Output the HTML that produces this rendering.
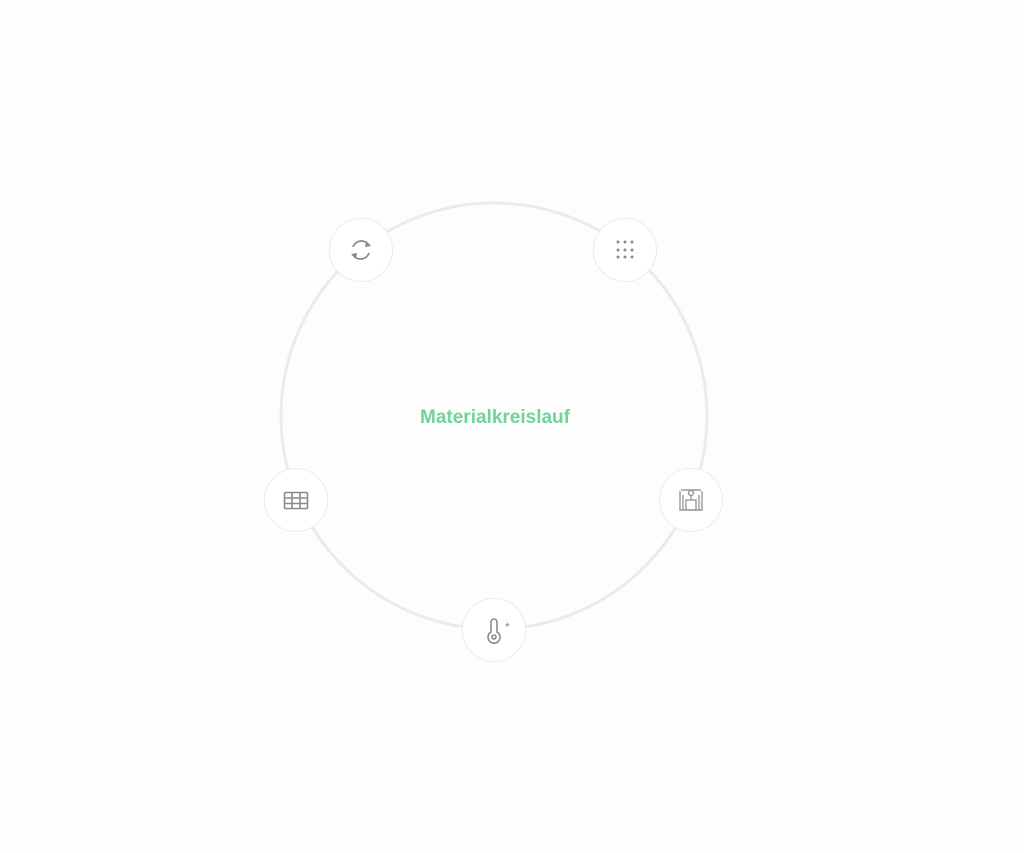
<!DOCTYPE html>
<html><head><meta charset="utf-8"><style>
html,body{margin:0;padding:0;background:#fdfdfd;}
body{width:1024px;height:853px;position:relative;overflow:hidden;font-family:"Liberation Sans",sans-serif;}
</style></head><body>
<svg width="1024" height="853" style="position:absolute;left:0;top:0">
<circle cx="494" cy="416" r="213" fill="none" stroke="#ebebeb" stroke-width="3"/>
<g fill="#fff" stroke="#ececec" stroke-width="1">
<circle cx="361" cy="250" r="31.5"/>
<circle cx="625" cy="250" r="31.5"/>
<circle cx="296" cy="500" r="31.5"/>
<circle cx="691" cy="500" r="31.5"/>
<circle cx="494" cy="630" r="31.5"/>
</g>
<!-- refresh -->
<g fill="none" stroke="#8a8a8a" stroke-width="1.8">
<path d="M353 247 A9 9 0 0 1 369 245"/><path d="M369 253 A9 9 0 0 1 353 255"/>
</g>
<path d="M366 241 L371 246 L365 247Z M356 259 L351 254 L357 253Z" fill="#8a8a8a"/>
<!-- dots -->
<g fill="#8a8a8a">
<circle cx="618" cy="242" r="1.5"/><circle cx="625" cy="242" r="1.5"/><circle cx="632" cy="242" r="1.5"/>
<circle cx="618" cy="250" r="1.5"/><circle cx="625" cy="250" r="1.5"/><circle cx="632" cy="250" r="1.5"/>
<circle cx="618" cy="257" r="1.5"/><circle cx="625" cy="257" r="1.5"/><circle cx="632" cy="257" r="1.5"/>
</g>
<!-- grid -->
<g fill="none" stroke="#8a8a8a" stroke-width="1.6">
<rect x="284.5" y="492.5" width="23" height="16" rx="1"/>
<line x1="292" y1="492" x2="292" y2="509"/><line x1="300" y1="492" x2="300" y2="509"/>
<line x1="284" y1="498" x2="308" y2="498"/><line x1="284" y1="503.5" x2="308" y2="503.5"/>
</g>
<!-- press -->
<g fill="none" stroke="#999" stroke-width="1.4">
<line x1="681" y1="490" x2="701" y2="490"/><circle cx="691" cy="493" r="2.5"/>
<line x1="691" y1="495" x2="691" y2="500"/>
<path d="M680 491 V510 H702 V491"/><rect x="686" y="500" width="10" height="10"/>
<line x1="683" y1="495" x2="683" y2="510"/><line x1="699" y1="495" x2="699" y2="510"/>
</g>
<!-- thermometer -->
<g fill="none" stroke="#8a8a8a" stroke-width="1.6">
<path d="M491 632 V622 a3 3 0 0 1 6 0 V632 a6 6 0 1 1 -6 0Z"/><circle cx="494" cy="637" r="2"/>
</g>
<text x="505" y="631" font-size="12" fill="#8a8a8a" font-family="Liberation Sans">*</text>
<text x="495" y="423" text-anchor="middle" font-size="19" font-weight="bold" fill="#6fd39b" font-family="Liberation Sans, sans-serif">Materialkreislauf</text>
</svg>
</body></html>
